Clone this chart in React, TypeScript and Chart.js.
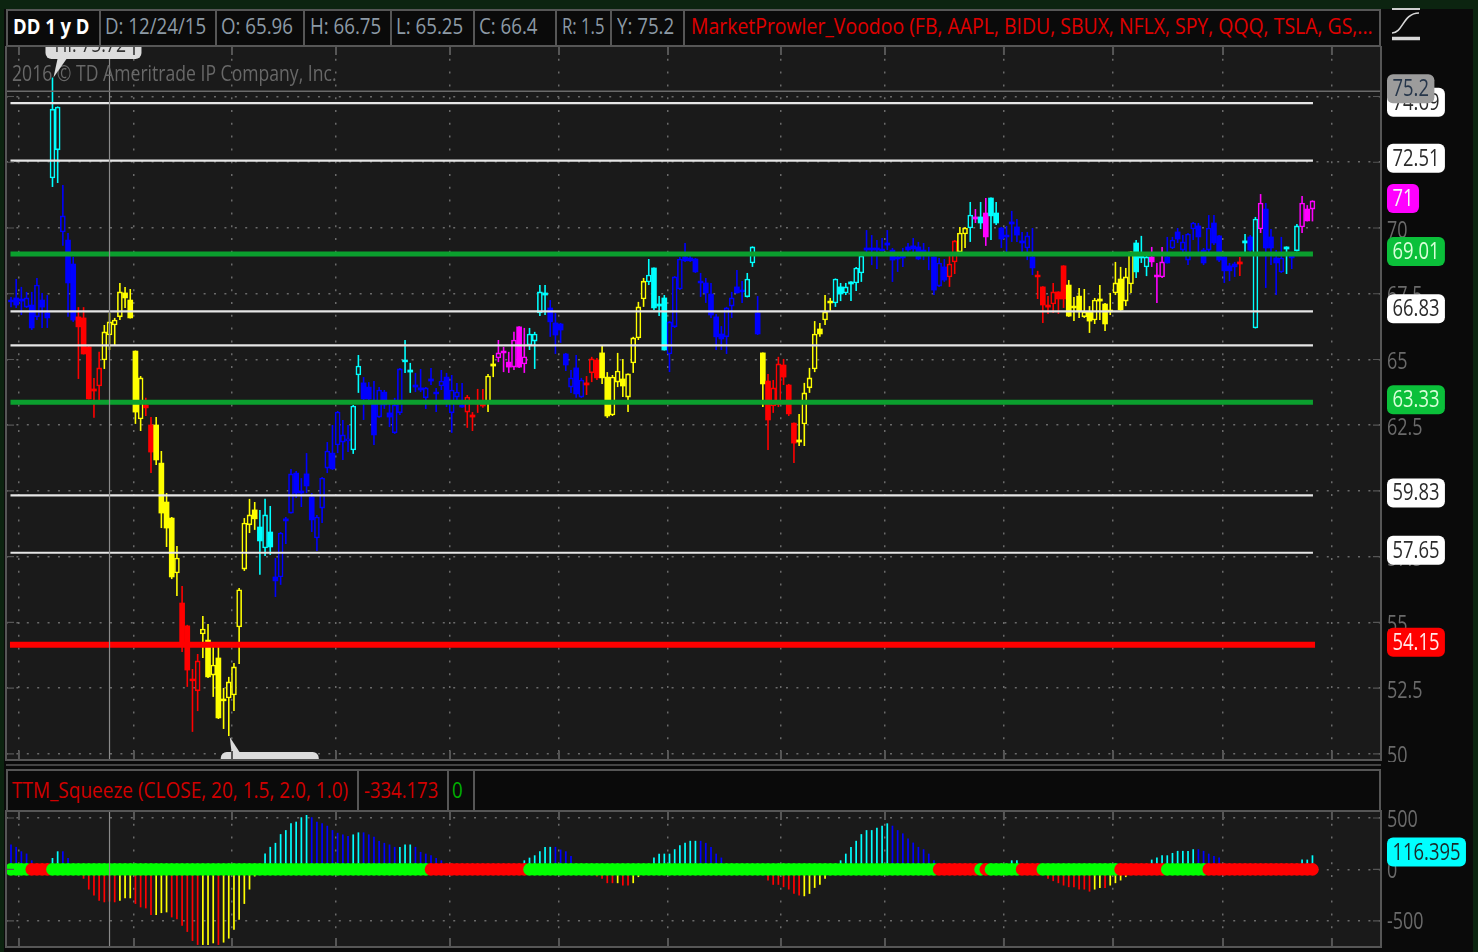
import React, { useEffect, useRef } from "react";
import { Chart, registerables } from "chart.js";

Chart.register(...registerables);

// ---------- Price data (one entry per daily bar) ----------
const opens = [
67.26,67.34,67.30,66.99,67.07,66.62,67.26,66.77,71.90,72.97,
69.85,69.54,68.63,66.62,66.58,65.48,63.88,63.99,64.98,65.93,
66.31,66.62,67.53,67.26,65.32,62.74,63.27,62.51,62.51,61.06,
59.58,58.97,56.88,55.74,54.87,52.85,52.40,54.56,54.33,53.00,
53.65,52.09,52.13,52.24,54.83,57.03,58.71,59.28,58.63,57.83,
58.44,56.73,56.73,58.94,59.16,60.68,60.00,60.65,59.77,58.21,
59.35,60.87,61.44,61.75,61.86,61.90,61.56,64.41,64.11,63.95,
63.35,62.81,63.76,62.97,62.21,62.97,64.98,64.60,64.03,63.92,
63.54,64.26,63.76,63.99,64.33,62.97,63.57,63.27,63.00,62.89,
63.38,63.31,63.38,64.83,65.06,65.32,64.90,64.71,66.24,64.83,
65.55,65.70,66.77,67.53,66.96,66.39,66.35,65.21,63.95,64.68,
63.57,64.11,64.49,64.98,65.25,64.33,62.89,64.14,64.26,63.57,
64.87,65.82,67.30,67.95,68.48,67.11,67.34,65.21,66.24,67.68,
68.90,68.86,68.82,67.98,67.91,67.49,66.62,65.97,65.86,67.03,
67.76,67.64,67.38,68.67,66.77,65.25,64.18,63.23,63.27,64.79,
64.03,62.58,61.94,62.55,63.92,64.64,66.16,66.50,67.22,67.15,
67.76,67.53,67.95,67.91,68.29,69.24,69.24,69.24,69.20,69.43,
69.16,68.90,68.94,69.28,69.32,69.28,69.16,69.01,68.90,67.79,68.52,
68.14,68.71,69.09,69.77,70.00,70.42,70.42,70.57,71.14,70.57,
70.00,69.73,70.23,70.04,69.51,69.24,68.90,68.21,67.76,67.07,
67.11,67.57,68.56,67.83,67.03,67.41,66.62,66.81,66.50,67.30,
67.11,66.88,67.53,68.06,67.22,67.87,69.43,68.94,68.52,68.90,
68.21,68.14,68.90,69.24,69.85,69.16,68.78,69.96,70.08,69.16,
69.16,70.19,69.70,68.90,68.56,68.63,68.71,69.51,69.66,66.20,
69.96,70.72,69.66,68.86,68.33,69.28,68.94,69.13,70.04,70.72,
70.72,
];
const highs = [
67.38,68.06,67.76,67.57,67.57,68.10,67.53,67.45,75.72,74.62,
71.63,69.81,68.90,66.99,66.99,65.55,64.30,65.29,66.31,66.77,
66.58,67.91,67.76,67.68,65.34,64.37,63.54,62.81,62.81,61.52,
59.92,59.01,57.91,56.39,54.91,53.23,53.80,55.25,54.94,54.07,
54.07,52.51,52.93,53.46,56.31,58.97,59.70,59.58,59.28,59.70,
59.43,57.45,58.44,59.01,60.84,60.76,60.49,61.44,59.92,59.09,
60.53,61.86,62.51,63.04,62.70,62.51,63.27,65.17,64.33,64.14,
64.18,63.95,63.84,63.38,63.54,64.68,65.74,64.87,64.49,64.64,
63.95,64.68,63.92,64.60,64.49,64.41,64.11,64.11,63.65,63.00,
63.88,63.88,64.45,65.17,65.74,65.48,65.29,66.05,66.26,66.20,
66.20,66.05,67.83,67.83,67.26,66.77,66.39,65.25,64.60,65.17,
64.30,64.37,65.10,65.06,65.51,64.52,64.41,65.25,65.02,64.47,
65.86,67.19,68.10,68.82,68.50,67.41,67.45,66.46,68.17,68.90,
69.43,68.97,68.86,68.29,68.10,67.91,66.73,66.27,67.00,67.57,
68.40,67.98,68.29,69.30,67.41,65.27,64.45,64.22,65.10,65.02,
64.07,62.60,62.93,64.11,64.68,66.46,66.39,67.45,67.34,68.08,
67.91,67.91,67.97,68.52,68.97,69.92,69.73,69.54,69.62,69.92,
69.24,69.05,69.24,69.43,69.62,69.47,69.43,69.28,68.92,68.86,68.82,
68.94,69.54,70.04,70.04,70.99,70.72,70.99,71.14,71.16,70.99,
70.04,70.08,70.65,70.34,69.85,69.85,70.00,68.37,67.78,67.41,
67.91,67.59,68.58,68.02,67.38,67.72,67.68,67.03,67.34,67.83,
67.15,67.53,68.71,68.52,68.48,69.11,69.54,69.70,68.97,69.28,
68.67,69.28,69.66,69.66,70.00,69.73,69.81,70.23,70.19,69.24,
70.49,70.49,69.73,68.92,68.67,68.71,68.90,69.77,69.73,70.42,
71.29,70.95,69.96,69.16,69.66,69.30,68.97,70.15,71.22,70.87,
71.05,
];
const lows = [
66.99,66.96,66.69,66.96,66.12,66.50,66.20,66.20,71.56,71.71,
69.32,66.62,66.43,64.26,65.19,63.48,62.78,63.46,64.64,65.36,
65.55,66.50,66.96,66.56,62.55,62.28,62.85,60.68,60.99,58.59,
57.87,56.65,56.01,53.88,52.55,50.84,51.63,53.65,52.89,52.17,
51.33,50.95,50.68,51.63,53.42,56.96,58.40,58.52,56.81,57.53,
57.57,55.97,56.43,57.98,59.14,59.73,59.39,59.92,58.44,57.72,
58.78,60.68,60.80,61.44,61.18,61.48,61.41,63.73,62.70,63.35,
61.75,62.78,63.12,62.43,62.17,62.89,64.49,63.73,63.76,63.76,
63.12,64.03,63.00,63.84,63.19,62.21,63.46,63.16,62.40,62.28,
62.97,63.16,63.00,64.33,64.90,64.52,64.49,64.60,64.68,64.49,
65.36,64.64,66.65,66.69,65.86,65.21,65.63,64.56,63.73,63.54,
63.54,63.65,64.14,64.22,64.07,62.78,62.85,63.95,63.57,63.00,
64.49,65.74,67.00,67.83,66.88,66.65,65.34,64.52,66.20,67.64,
68.71,68.71,68.29,67.38,67.15,66.58,65.36,65.36,65.21,66.58,
67.51,67.15,67.36,68.52,65.93,63.19,61.56,62.97,63.19,64.03,
62.85,61.06,61.71,61.71,63.73,64.52,65.86,66.31,66.84,67.00,
67.22,67.45,67.22,67.60,67.95,69.05,68.59,68.44,69.11,69.16,
67.95,68.33,68.52,69.05,68.97,68.78,68.78,68.40,67.45,67.76,67.95,
67.76,68.25,69.05,69.24,69.47,70.19,69.96,69.32,69.54,70.11,
69.24,69.09,69.47,69.47,69.09,68.78,68.21,67.30,66.39,66.73,
66.77,66.73,66.96,66.62,66.46,66.58,66.58,66.01,66.35,66.50,
66.08,66.69,67.45,66.84,67.03,67.53,68.10,68.67,68.17,68.52,
67.15,68.10,68.65,69.20,69.43,69.09,68.59,69.54,69.09,68.59,
69.09,69.35,68.71,67.91,67.98,68.14,68.17,68.94,69.05,66.18,
69.81,67.72,68.59,67.45,68.29,68.25,68.44,69.11,69.81,70.25,
70.25,
];
const closes = [
67.19,67.07,67.22,67.34,66.20,67.83,66.99,66.58,74.52,74.60,
70.46,67.91,66.50,66.24,65.21,63.50,63.80,64.68,66.05,66.43,
66.50,67.57,67.34,66.58,63.00,64.30,63.16,61.48,61.18,59.16,
58.59,56.73,57.45,54.26,53.19,52.78,53.54,54.75,52.93,53.38,
51.37,52.02,52.74,53.31,56.24,58.78,59.09,58.94,58.10,59.09,
57.87,56.58,58.40,58.86,60.65,59.92,59.92,60.19,58.90,59.01,
60.49,61.52,60.84,63.00,62.13,61.98,63.23,64.75,63.50,63.50,
62.13,63.84,63.27,62.81,63.27,64.64,64.91,64.52,63.95,63.84,
63.92,64.18,63.69,64.18,63.46,63.84,63.76,63.19,63.57,62.81,
63.31,63.23,64.37,64.75,65.25,65.25,64.71,65.74,64.71,65.10,
65.97,65.97,67.57,67.45,66.43,65.93,66.12,64.79,64.30,63.69,
64.22,64.03,65.02,64.30,64.30,62.85,64.33,64.56,63.99,64.45,
65.82,67.00,67.98,68.21,66.96,67.03,65.36,66.43,68.14,68.82,
68.75,68.75,68.33,67.91,67.53,66.69,65.86,65.78,66.96,67.34,
67.53,67.57,68.06,69.28,65.97,64.07,62.70,63.92,64.83,64.33,
62.93,61.82,61.86,63.73,64.30,65.97,65.97,66.81,67.15,68.06,
67.49,67.76,67.87,68.48,68.94,69.16,69.16,69.16,69.13,69.35,
68.78,68.82,68.86,69.16,69.20,68.82,69.05,68.94,67.64,68.67,68.02,
68.63,69.51,69.81,70.00,70.49,70.34,70.19,69.66,70.46,70.19,
69.58,69.66,70.15,69.73,69.43,69.70,68.48,68.14,67.07,66.99,
67.57,67.30,67.30,66.65,66.96,66.81,66.81,66.46,67.26,67.22,
66.35,66.81,67.91,66.88,68.14,69.09,68.33,68.86,68.90,68.71,
68.14,68.71,68.67,69.54,69.58,69.47,69.77,70.19,69.66,68.67,
70.00,69.43,68.78,68.37,68.37,68.52,68.63,69.43,69.16,70.34,
70.95,69.24,69.24,68.67,68.86,69.20,68.86,70.08,70.95,70.27,
71.03,
];
// b blue, c cyan, y yellow, r red, m magenta
const candleTones = [
"bbbbbbbbcc","bbbrrrrryy","yyyyyyrryy","yyyrrrryyy","yyyyyyyycc",
"cbbbbbbbbb","bbbbbbccbb","bbbbbbccbb","bbbbbbbbrr","rryymmmmmm",
"ccccbbbbbb","brrryyyyyy","yyyccccbbb","bbbbbbbbbb","bbccbyrrrr",
"rryyyyyyyc","cccccbbbbb","bbbbbbbbbbb","rryycmcmcc","bbbbbbbrrr",
"rrryyyyyyy","yyyyyycccm","mmbbbbbbbb","bbbbbbrcbc","mbbbbcbcmm","m",
].join("");

// ---------- Level lines ----------
const whiteLevels = [74.75, 72.56, 66.83, 65.54, 59.83, 57.65];
const greenLevels = [69.01, 63.37];
const redLevels = [54.15];
const levelSpan = [-0.1, 251.1];
const redSpan = [-0.2, 251.5];

const priceTicks = [50, 52.5, 55, 57.5, 60, 62.5, 65, 67.5, 70, 72.5, 75];
const monthBars = [1.54, 23.72, 42.62, 62.68, 84.67, 105.69, 126.71, 148.5, 168.56, 191.5, 212.54, 233.75, 254.76];
const cursorBar = 19;
const cursorPrice = 75.2;
const highestBar = 8;
const highestPrice = 75.72;
const lowestBar = 42;
const lowestPrice = 50.68;

// ---------- Squeeze data ----------
const squeezeValues = [
242,219,176,154,88,20,8,20,111,176,
176,111,10,-10,-91,-196,-255,-304,-320,-313,
-320,-304,-281,-281,-336,-369,-379,-444,-444,-425,
-418,-467,-484,-549,-608,-696,-735,-735,-735,-719,
-735,-712,-673,-588,-490,-336,-196,-69,20,154,
219,258,343,382,448,464,507,529,507,464,
448,425,382,356,340,324,340,360,360,340,
317,275,258,242,219,219,242,242,219,170,
153,137,111,88,30,20,10,-10,-20,-25,
-30,-25,-20,-15,-10,-5,10,15,25,88,
114,137,176,219,219,219,193,176,131,50,
30,10,-10,-69,-91,-134,-134,-134,-157,-157,
-134,-75,-20,30,115,153,153,153,196,235,
258,278,278,278,258,219,153,115,40,20,
10,5,10,5,-10,-30,-108,-150,-150,-173,
-196,-238,-255,-261,-238,-180,-150,-91,-10,10,
88,153,219,278,343,382,382,405,425,448,
425,382,350,301,261,219,196,153,88,40,
20,15,10,5,10,20,15,25,30,25,
30,40,50,88,88,40,10,5,-15,-30,-91,
-114,-134,-157,-173,-173,-196,-196,-216,-196,-180,
-180,-157,-134,-108,-75,-20,10,20,40,95,
115,137,137,160,180,180,180,196,196,180,
153,131,115,40,30,20,10,5,5,10,
8,6,5,8,10,15,20,40,95,95,
137,
];
const squeezeTones = [
"bbbbbbbbcc","bbbrrrrrrr","ryyyrrrryy","yrrrrrryyy","ryyyyyyycc",
"ccccccccbb","bbbbbbccbb","bbbbbcccbb","bbbbbbbrrr","ryyyyycccc",
"cccccbbbbb","bbrrrrryrr","yyyccccccc","cccbbbbbbb","bbbbrrrrrr",
"rrryyyyyyc","cccccccccc","bbbbbbbbbb","bbbbbbbbbb","bbbccbbbrrr",
"rrrrrrrryy","ryyyyycccc","ccccccccbb","bbbbbbbbbb","bbbbbbbbcc","c",
].join("");
const squeezeDots = [
"ggggrrrrgg","gggggggggg","gggggggggg","gggggggggg","gggggggggg",
"gggggggggg","gggggggggg","gggggggggg","grrrrrrrrr","rrrrrrrrrr",
"gggggggggg","gggggggggg","gggggggggg","gggggggggg","gggggggggg",
"gggggggggg","gggggggggg","gggggggggr","rrrrrrrgrg","gggggrrrrg",
"gggggggggg","ggggrrrrrr","rrrggggggg","grrrrrrrrr","rrrrrrrrrr","rr",
].join("");
const squeezeTicks = [-500, 0, 500];

// ---------- Styling ----------
const TONE: Record<string, string> = { b: "#0000ff", c: "#00ffff", y: "#ffff00", r: "#ff0000", m: "#ff00ff" };
const PANEL = "#1a1a1a";
const FRAME = "#565656";
const TEXT_FAMILY = '"Open Sans", "Noto Sans", sans-serif';
const SQUEEZE_X = 0.85;
const TICK_SQUEEZE = 0.78;

type Tag = { value: number; text: string; bg: string; fg: string };
const priceTags: Tag[] = [
  { value: 74.69, text: "74.69", bg: "#ffffff", fg: "#2b2b2b" },
  { value: 75.2, text: "75.2", bg: "#9c9c9c", fg: "#26364a" },
  { value: 72.56, text: "72.51", bg: "#ffffff", fg: "#2b2b2b" },
  { value: 71.03, text: "71", bg: "#ff00ff", fg: "#f6f6f6" },
  { value: 69.01, text: "69.01", bg: "#0bc03a", fg: "#d8ffd8" },
  { value: 66.83, text: "66.83", bg: "#ffffff", fg: "#2b2b2b" },
  { value: 63.37, text: "63.33", bg: "#0bc03a", fg: "#d8ffd8" },
  { value: 59.83, text: "59.83", bg: "#ffffff", fg: "#2b2b2b" },
  { value: 57.65, text: "57.65", bg: "#ffffff", fg: "#2b2b2b" },
  { value: 54.15, text: "54.15", bg: "#ff0000", fg: "#ffe8e8" },
];
const squeezeTags: Tag[] = [{ value: 145, text: "116.395", bg: "#00ffff", fg: "#1a2a2a" }];

function drawTag(ctx: CanvasRenderingContext2D, y: number, tag: Tag) {
  ctx.save();
  ctx.font = `23px ${TEXT_FAMILY}`;
  const w = ctx.measureText(tag.text).width * 0.8 + 11;
  ctx.fillStyle = tag.bg;
  ctx.beginPath();
  ctx.roundRect(1387, y - 14.5, w, 29, 6);
  ctx.fill();
  ctx.fillStyle = tag.fg;
  ctx.textBaseline = "middle";
  ctx.translate(1392.5, y + 1);
  ctx.scale(0.8, 1);
  ctx.fillText(tag.text, 0, 0);
  ctx.restore();
}

function framePlugin(tags: Tag[], extra?: (chart: any, ctx: CanvasRenderingContext2D) => void) {
  return {
    id: "frame",
    beforeDraw(chart: any) {
      const { ctx, chartArea: a } = chart;
      ctx.save();
      ctx.fillStyle = PANEL;
      ctx.fillRect(a.left, a.top, a.right - a.left, a.bottom - a.top);
      ctx.restore();
    },
    afterDraw(chart: any) {
      const { ctx, chartArea: a, scales } = chart;
      ctx.save();
      ctx.strokeStyle = "#8a8a8a";
      ctx.lineWidth = 1.2;
      const cx = scales.x.getPixelForValue(cursorBar);
      ctx.beginPath();
      ctx.moveTo(cx, a.top);
      ctx.lineTo(cx, a.bottom);
      ctx.stroke();
      if (extra) extra(chart, ctx);
      ctx.strokeStyle = FRAME;
      ctx.lineWidth = 2;
      ctx.beginPath();
      for (const t of scales.x.ticks) {
        const x = scales.x.getPixelForValue(t.value);
        ctx.moveTo(x, a.top);
        ctx.lineTo(x, a.top + 9);
        ctx.moveTo(x, a.bottom - 9);
        ctx.lineTo(x, a.bottom);
      }
      ctx.stroke();
      ctx.lineWidth = 1.2;
      ctx.beginPath();
      for (const t of scales.y.ticks) {
        const y = scales.y.getPixelForValue(t.value);
        ctx.moveTo(a.left, y);
        ctx.lineTo(a.left + 8, y);
        ctx.moveTo(a.right - 8, y);
        ctx.lineTo(a.right, y);
      }
      ctx.stroke();
      ctx.lineWidth = 2;
      ctx.strokeRect(a.left, a.top, a.right - a.left, a.bottom - a.top);
      for (const tag of tags) drawTag(ctx, scales.y.getPixelForValue(tag.value) - 2.5, tag);
      ctx.restore();
    },
  };
}

function priceExtras(chart: any, ctx: CanvasRenderingContext2D) {
  const { chartArea: a, scales } = chart;
  ctx.save();
  ctx.beginPath();
  ctx.rect(a.left, a.top, a.right - a.left, a.bottom - a.top);
  ctx.clip();
  // crosshair price
  ctx.strokeStyle = "#6a6a6a";
  ctx.lineWidth = 1.5;
  const py = scales.y.getPixelForValue(cursorPrice);
  ctx.beginPath();
  ctx.moveTo(a.left, py);
  ctx.lineTo(a.right, py);
  ctx.stroke();
  // copyright
  ctx.save();
  ctx.fillStyle = "#686868";
  ctx.font = `22px ${TEXT_FAMILY}`;
  ctx.textBaseline = "middle";
  ctx.translate(12, a.top + 29);
  ctx.scale(0.8, 1);
  ctx.fillText("2016 © TD Ameritrade IP Company, Inc.", 0, 0);
  ctx.restore();
  // high bubble
  const hx = scales.x.getPixelForValue(highestBar);
  const hy = scales.y.getPixelForValue(highestPrice);
  ctx.fillStyle = "#dcdcdc";
  ctx.beginPath();
  ctx.moveTo(hx + 1, hy);
  ctx.lineTo(hx + 14, a.top + 13);
  ctx.lineTo(hx + 5, a.top + 13);
  ctx.closePath();
  ctx.fill();
  ctx.beginPath();
  ctx.roundRect(hx - 7, a.top - 16, 96, 29, 6);
  ctx.fill();
  ctx.save();
  ctx.fillStyle = "#333";
  ctx.font = `22px ${TEXT_FAMILY}`;
  ctx.textBaseline = "alphabetic";
  ctx.translate(hx + 2, a.top + 6);
  ctx.scale(0.8, 1);
  ctx.fillText("Hi: 75.72", 0, 0);
  ctx.restore();
  // low bubble
  const lx = scales.x.getPixelForValue(lowestBar);
  const ly = scales.y.getPixelForValue(lowestPrice);
  ctx.fillStyle = "#dcdcdc";
  ctx.beginPath();
  ctx.moveTo(lx + 1, ly + 1);
  ctx.lineTo(lx + 12, a.bottom - 6);
  ctx.lineTo(lx + 3, a.bottom - 6);
  ctx.closePath();
  ctx.fill();
  ctx.beginPath();
  ctx.roundRect(lx - 8, a.bottom - 8, 98, 29, 6);
  ctx.fill();
  ctx.restore();
}

const xAxis = {
  type: "linear" as const,
  min: -0.964,
  max: 264.22,
  offset: false,
  afterBuildTicks(scale: any) {
    scale.ticks = monthBars.map((value) => ({ value }));
  },
  afterFit(scale: any) {
    scale.height = 0;
    scale.paddingLeft = 0;
    scale.paddingRight = 0;
  },
  ticks: { display: false, autoSkip: false },
  border: { display: false, dash: [2, 10.8] },
  grid: { color: "#6a6a6a", lineWidth: 1.5, drawTicks: false, offset: false },
};

function yAxis(min: number, max: number, ticks: number[], labelOffset: number) {
  return {
    type: "linear" as const,
    position: "right" as const,
    min,
    max,
    afterBuildTicks(scale: any) {
      scale.ticks = ticks.map((value) => ({ value }));
    },
    afterFit(scale: any) {
      scale.width = 97;
      scale.paddingTop = 0;
      scale.paddingBottom = 0;
      // the reference's axis text is horizontally condensed
      if (!scale.__condensed) {
        scale.__condensed = true;
        const draw = scale.drawLabels;
        scale.drawLabels = function (area: any) {
          const ctx = this.ctx;
          const x0 = this.left + 6;
          ctx.save();
          ctx.translate(x0, 0);
          ctx.scale(TICK_SQUEEZE, 1);
          ctx.translate(-x0, 0);
          draw.call(this, area);
          ctx.restore();
        };
      }
    },
    ticks: {
      autoSkip: false,
      padding: 6,
      labelOffset,
      color: "#6a6a6a",
      font: { family: TEXT_FAMILY, size: 23 },
      callback: (v: number) => String(v),
    },
    border: { display: false, dash: [2, 8.4] },
    grid: { color: "#6a6a6a", lineWidth: 1.5, drawTicks: false },
  };
}

function levelDataset(value: number, color: string, width: number, span = levelSpan) {
  return {
    type: "line" as const,
    data: span.map((x) => ({ x, y: value })),
    borderColor: color,
    borderWidth: width,
    pointRadius: 0,
    order: 1,
  };
}

const baseOptions = {
  animation: false as const,
  responsive: false,
  events: [] as any[],
  plugins: { legend: { display: false }, tooltip: { enabled: false } },
};

function Header({ left, text, color, bold, sx }: { left: number; text: string; color: string; bold?: boolean; sx?: number }) {
  return (
    <span
      style={{
        position: "absolute",
        left,
        top: 0,
        lineHeight: "36px",
        fontSize: 22,
        fontWeight: bold ? 700 : 400,
        fontFamily: TEXT_FAMILY,
        color,
        whiteSpace: "nowrap",
        transform: `scaleX(${sx ?? SQUEEZE_X})`,
        transformOrigin: "left center",
      }}
    >
      {text}
    </span>
  );
}

const topSeparators = [99, 215, 303, 390, 473, 555, 610, 683];
const lowSeparators = [357, 447, 473];
const boxStyle = (top: number, height: number) =>
  ({
    position: "absolute",
    left: 6,
    top,
    width: 1375,
    height,
    boxSizing: "border-box",
    border: `2px solid ${FRAME}`,
    background: "#0a0a0a",
  }) as React.CSSProperties;

export default function App() {
  const priceRef = useRef<HTMLCanvasElement>(null);
  const squeezeRef = useRef<HTMLCanvasElement>(null);

  useEffect(() => {
    document.body.style.margin = "0";
    const toneOf = (s: string) => s.split("").map((k) => TONE[k]);
    const colors = toneOf(candleTones);
    const hollow = opens.map((o, i) => closes[i] > o);
    const price = new Chart(priceRef.current!, {
      type: "bar",
      data: {
        datasets: [
          ...whiteLevels.map((v) => levelDataset(v, "#e6e6e6", 2.2)),
          ...greenLevels.map((v) => levelDataset(v, "#0b9f2e", 5)),
          ...redLevels.map((v) => levelDataset(v, "#ff0000", 6, redSpan)),
          {
            data: opens.map((o, i) => ({ x: i, y: [o, closes[i]] })),
            backgroundColor: colors.map((c, i) => (hollow[i] ? PANEL : c)),
            borderColor: colors,
            borderWidth: hollow.map((h) => (h ? 1.6 : 0)),
            borderSkipped: false,
            barThickness: 5,
            grouped: false,
            order: 2,
          },
          {
            data: lows.map((l, i) => ({ x: i, y: [l, highs[i]] })),
            backgroundColor: colors,
            barThickness: 1.6,
            inflateAmount: 0,
            grouped: false,
            order: 3,
          },
        ] as any,
      },
      options: {
        ...baseOptions,
        layout: { autoPadding: false, padding: { left: 6, right: 0, top: 0, bottom: 2 } },
        scales: { x: xAxis, y: yAxis(49.77, 76.92, priceTicks, 3) },
      } as any,
      plugins: [framePlugin(priceTags, priceExtras)],
    });
    const squeeze = new Chart(squeezeRef.current!, {
      type: "bar",
      data: {
        datasets: [
          {
            type: "line",
            data: squeezeDots.split("").map((_, i) => ({ x: i, y: 0 })),
            showLine: false,
            pointRadius: 6.3,
            pointBorderWidth: 0,
            pointBackgroundColor: squeezeDots.split("").map((d) => (d === "g" ? "#00ff00" : "#ff0000")),
            order: 1,
          },
          {
            data: squeezeValues.map((y, i) => ({ x: i, y })),
            backgroundColor: toneOf(squeezeTones),
            barThickness: 1.7,
            inflateAmount: 0,
            grouped: false,
            order: 2,
          },
        ] as any,
      },
      options: {
        ...baseOptions,
        layout: { autoPadding: false, padding: { left: 6, right: 0, top: 1, bottom: 1 } },
        scales: { x: xAxis, y: yAxis(-755, 568, squeezeTicks, 2) },
      } as any,
      plugins: [framePlugin(squeezeTags)],
    });
    return () => {
      price.destroy();
      squeeze.destroy();
    };
  }, []);

  return (
    <div style={{ position: "fixed", left: 0, top: 0, width: 1478, height: 952, overflow: "hidden", background: "#0c2410", filter: "blur(0.45px)" }}>
      <div style={{ position: "absolute", left: 4, top: 9, width: 1469, height: 943, background: "#0a0a0a" }} />

      <div style={boxStyle(9, 38)}>
        <div style={{ position: "absolute", inset: 0, top: -4 }}>
          <Header left={5} text="DD 1 y D" color="#ffffff" bold sx={0.84} />
          <Header left={97} text="D: 12/24/15" color="#8d9aa6" />
          <Header left={213} text="O: 65.96" color="#8d9aa6" />
          <Header left={302} text="H: 66.75" color="#8d9aa6" />
          <Header left={388} text="L: 65.25" color="#8d9aa6" />
          <Header left={471} text="C: 66.4" color="#8d9aa6" />
          <Header left={554} text="R: 1.5" color="#8d9aa6" sx={0.76} />
          <Header left={609} text="Y: 75.2" color="#8d9aa6" />
          <Header left={683} text="MarketProwler_Voodoo (FB, AAPL, BIDU, SBUX, NFLX, SPY, QQQ, TSLA, GS,..." color="#e00000" sx={0.883} />
        </div>
        {topSeparators.map((x) => (
          <div key={x} style={{ position: "absolute", left: x - 8, top: 0, width: 2, height: 34, background: FRAME }} />
        ))}
      </div>

      <svg width="34" height="34" style={{ position: "absolute", left: 1389, top: 8 }} viewBox="0 0 34 34">
        <path d="M3 1 H31" stroke="#cfcfcf" strokeWidth="2" />
        <path d="M3 25 C14 25 14 5 30 5" stroke="#d8d8d8" strokeWidth="1.6" fill="none" />
        <path d="M3 30.5 H31" stroke="#d8d8d8" strokeWidth="3.5" />
      </svg>

      <canvas ref={priceRef} width={1478} height={716} style={{ position: "absolute", left: 0, top: 46, width: 1478, height: 716 }} />

      <div style={{ position: "absolute", left: 6, top: 764, width: 1375, height: 2, background: "#444" }} />

      <div style={boxStyle(769, 43)}>
        <div style={{ position: "absolute", inset: 0, top: 0 }}>
          <Header left={4} text="TTM_Squeeze (CLOSE, 20, 1.5, 2.0, 1.0)" color="#d00000" sx={0.864} />
          <Header left={356} text="-334.173" color="#d00000" sx={0.84} />
          <Header left={444} text="0" color="#00b000" />
        </div>
        {lowSeparators.map((x) => (
          <div key={x} style={{ position: "absolute", left: x - 8, top: 0, width: 2, height: 39, background: FRAME }} />
        ))}
      </div>

      <canvas ref={squeezeRef} width={1478} height={138} style={{ position: "absolute", left: 0, top: 810, width: 1478, height: 138 }} />
    </div>
  );
}
